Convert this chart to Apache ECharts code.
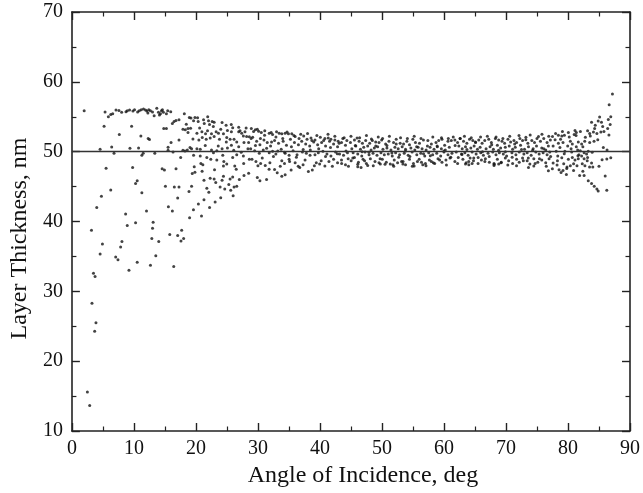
<!DOCTYPE html>
<html>
<head>
<meta charset="utf-8">
<script src="https://cdn.jsdelivr.net/npm/echarts@6/dist/echarts.min.js"></script>
<style>
html,body{margin:0;padding:0;background:#fff;}
#chart{width:643px;height:493px;}
</style>
</head>
<body>
<div id="chart"></div>
<script>
// ---- data: [angle of incidence (deg), layer thickness (nm)] ----
const xTickValues = [0,10,20,30,40,50,60,70,80,90];
const yTickValues = [10,20,30,40,50,60,70];
const targetThickness = 50;

const pointsBelow19 = [
[1.98,55.87],[5.35,55.67],[5.88,55.0],[6.26,55.34],[6.58,55.43],[7.11,55.96],[7.59,55.91],[8.02,55.63],[8.72,55.72],[8.93,55.87],
[9.3,55.96],[9.84,55.82],[10.1,56.0],[10.6,55.67],[10.86,55.87],[11.18,56.0],[11.55,56.1],[11.87,55.96],[12.09,55.82],[12.4,56.0],
[12.25,55.53],[12.67,55.87],[13.0,55.67],[13.26,55.14],[13.69,56.2],[13.96,55.63],[14.12,55.24],[14.28,55.43],[14.44,55.87],[14.6,56.0],
[14.76,55.63],[15.24,55.43],[15.45,55.87],[15.94,55.72],[16.2,54.04],[16.47,54.33],[16.79,54.47],[17.27,54.57],[18.13,55.43],[18.45,53.94],
[18.72,53.32],[18.93,54.9],
[5.19,53.65],[7.65,52.45],[9.63,53.65],[11.12,52.26],[12.3,51.88],[12.51,51.73],[14.81,53.32],[15.24,53.32],[15.51,50.63],[15.99,51.3],
[17.27,51.68],[17.91,53.22],[18.29,53.13],[18.72,52.74],
[4.55,50.34],[6.42,50.67],[6.79,49.76],[9.36,50.48],[10.75,50.53],[11.28,49.47],[11.5,49.76],[13.37,49.76],[15.51,50.19],[16.31,49.95],
[17.54,49.18],[17.91,50.19],[18.24,50.1],[18.61,50.24],[19.04,50.58],
[5.51,47.64],[9.79,47.74],[14.55,47.55],[14.92,47.36],[16.79,47.55],[10.27,45.43],[10.53,45.82],[6.26,44.52],[4.76,43.6],[15.08,45.05],
[16.52,44.95],[17.27,44.95],[18.88,44.28],[17.06,43.37],[11.28,44.13],
[4.01,42.02],[8.66,41.06],[12.03,41.49],[15.56,42.12],[16.2,41.49],[18.98,40.53],[3.16,38.75],[8.93,39.42],[10.27,39.81],[13.1,39.9],
[13.0,39.04],[15.78,38.13],[17.06,37.98],[17.7,38.75],[18.02,37.55],[17.59,37.21],[12.89,37.55],[14.01,37.12],[4.92,36.78],[8.07,37.12],
[7.86,36.35],[4.55,35.34],[7.06,34.9],[7.43,34.52],[10.53,34.18],[13.53,35.1],[12.67,33.75],[16.42,33.56],[9.2,33.03],[3.48,32.6],
[3.74,32.12],[3.24,28.3],[3.88,25.5],[3.67,24.3],[2.5,15.6],[2.87,13.65]
];

const points19to29 = [
[19.2,54.81],[19.84,54.9],[20.27,54.86],[19.62,54.42],[20.37,54.33],[21.23,54.57],[22.03,54.42],[22.62,54.33],[22.94,54.23],[21.34,54.04],
[22.19,53.89],[24.22,54.18],[24.87,53.8],[25.93,53.41],[19.14,53.37],[20.16,52.64],[20.96,52.84],[21.55,52.55],[21.87,52.98],[22.51,52.55],
[23.26,52.84],[23.64,52.64],[24.44,52.55],[25.08,53.03],[25.72,52.84],[26.9,52.84],[27.11,52.98],[27.38,52.64],[27.65,52.26],[27.91,52.84],
[28.18,52.16],[28.61,52.12],[19.52,51.83],[20.48,51.68],[21.02,52.02],[21.66,51.78],[22.3,51.97],[22.94,52.16],[23.8,51.78],[24.97,52.02],
[25.51,51.78],[26.15,51.78],[26.58,51.39],[27.75,51.3],[28.5,51.3],[19.3,50.43],[20.16,50.43],[20.7,50.34],[22.51,50.24],[23.37,50.14],
[24.22,50.43],[25.08,50.53],[25.72,50.91],[26.9,50.72],[28.39,50.43],[22.83,49.86],
[19.62,49.47],[20.7,49.38],[21.76,49.18],[23.37,48.8],[24.33,49.47],[25.93,49.18],[26.58,49.57],[27.65,49.38],[28.61,48.9],[19.73,47.84],
[20.8,48.32],[21.12,48.13],[24.44,47.93],[24.97,48.22],[26.26,47.93],[19.41,46.88],[19.84,47.07],[22.3,46.2],[22.94,46.1],[24.22,45.91],
[24.44,46.49],[25.51,46.1],[25.93,46.39],[27.75,46.59],[19.3,45.05],[21.76,44.76],[22.08,44.18],[23.9,44.95],[24.65,44.66],[25.61,44.47],
[26.15,44.95],[26.58,45.05],[19.6,41.7],[20.4,42.5],[21.3,43.1],[22.2,42.0],[23.1,42.8],[24.0,43.4],[20.9,40.8],
[20.6,53.4],[21.0,47.2],[21.5,50.9],[21.9,55.0],[22.4,48.9],[22.8,53.6],[23.2,45.6],[23.6,50.8],[24.0,53.2],[24.5,48.6],
[24.9,51.4],[25.3,45.3],[25.7,53.9],[26.1,50.2],[26.5,47.5],[26.9,53.5],[27.3,49.9],[27.7,48.3],[28.1,53.4],[28.5,46.9],
[28.9,51.9],[21.3,45.9],[23.0,47.4],[26.0,43.7],[27.0,46.0]
];

const points29to45 = [
[28.93,53.32],[29.58,53.13],[30.11,52.93],[30.54,52.74],[31.07,52.36],[31.82,52.64],[32.36,52.45],[33.0,52.84],[33.43,52.64],[33.85,52.55],
[34.39,52.64],[34.92,52.55],[35.46,52.55],[36.0,52.16],[36.63,51.88],[37.38,52.26],[37.92,51.78],[38.56,51.97],[39.2,51.68],[40.06,52.07],
[40.8,51.88],[41.34,51.97],[41.77,51.78],[42.41,51.68],[42.94,51.49],[43.69,51.88],[44.34,51.59],[29.9,53.22],[32.14,52.74],
[29.15,52.07],[29.79,51.49],[30.32,51.0],[30.97,51.68],[31.5,51.3],[32.04,50.82],[32.68,51.59],[33.32,51.2],[34.07,51.49],[34.6,50.91],
[35.24,51.78],[35.89,51.3],[36.53,51.0],[37.06,51.49],[37.7,51.1],[38.35,50.82],[38.99,51.39],[39.63,51.0],[40.27,51.3],[40.91,50.82],
[41.55,51.49],[42.2,51.1],[42.84,50.72],[43.48,51.3],[44.12,50.91],
[28.83,50.43],[29.47,50.14],[30.22,49.76],[30.86,50.24],[31.82,49.86],[32.36,50.05],[32.89,49.66],[33.75,50.34],[34.39,49.76],[35.03,49.47],
[35.67,50.14],[36.31,49.57],[37.17,49.95],[37.81,49.76],[38.45,50.24],[39.2,49.57],[39.74,49.86],[40.48,50.05],[41.13,49.66],[41.77,49.38],
[42.52,49.95],[43.16,49.66],[43.8,49.47],[44.44,49.86],
[29.04,48.9],[29.68,48.6],[30.43,48.32],[31.18,48.03],[31.93,48.41],[32.68,47.45],[33.11,46.97],[33.85,48.7],[34.28,48.32],[35.03,48.9],
[35.35,47.36],[36.0,48.41],[36.74,47.74],[37.28,48.13],[38.13,47.16],[38.77,47.36],[39.41,48.41],[39.95,48.22],[40.8,47.93],[41.45,48.6],
[42.2,48.9],[42.84,48.41],[43.48,48.8],[44.12,48.13],[44.55,48.99],
[29.9,46.3],[30.32,45.82],[31.39,46.0],[33.85,46.49],[34.39,46.68]
];

const points45to61 = [
[44.92,51.3],[45.56,51.68],[45.99,51.97],[46.31,51.49],[46.85,51.2],[47.38,51.59],[48.02,51.2],[48.45,51.59],[48.99,51.39],[49.52,51.3],
[49.95,51.68],[50.59,51.1],[51.13,51.49],[51.87,51.3],[52.3,51.78],[52.94,51.2],[53.48,51.1],[54.01,51.49],[54.44,51.0],[54.98,51.78],
[55.4,51.3],[56.05,51.2],[56.69,51.68],[57.33,50.82],[57.97,51.1],[58.72,51.3],[59.15,51.59],[59.68,51.78],[60.11,50.91],[60.65,51.49],
[45.14,50.43],[45.78,50.82],[46.53,50.34],[47.06,50.63],[47.7,50.82],[48.24,50.24],[48.77,50.53],[49.31,50.72],[50.16,50.34],[50.8,50.53],
[51.45,50.24],[52.09,50.63],[52.62,50.43],[53.26,50.72],[53.8,50.34],[54.66,50.53],[55.3,50.24],[55.83,50.63],[56.47,50.43],[57.12,50.24],
[57.76,50.63],[58.4,50.34],[58.93,50.72],[59.58,50.43],[60.22,50.24],[60.86,50.63],
[45.35,49.86],[46.1,49.66],[46.74,49.38],[47.28,49.95],[47.92,49.57],[48.56,49.76],[49.2,49.47],[49.84,49.86],[50.38,49.57],[51.02,49.66],
[51.66,49.38],[52.2,49.86],[52.84,49.57],[53.59,49.76],[54.23,49.47],[54.87,49.95],[55.62,49.57],[56.26,49.76],[56.9,49.38],[57.54,49.86],
[58.18,49.57],[58.83,49.76],[59.47,49.38],[60.0,49.95],[60.65,49.57],
[45.03,48.7],[45.56,49.18],[46.21,48.5],[46.95,48.9],[47.49,48.32],[48.13,48.99],[48.88,48.6],[49.52,48.41],[50.06,48.9],[50.7,48.5],
[51.34,48.22],[51.98,48.8],[52.52,48.41],[53.16,48.6],[53.8,48.13],[54.44,48.9],[55.08,48.32],[55.72,48.6],[56.37,48.5],[57.01,48.32],
[57.65,48.8],[58.29,48.41],[59.04,48.99],[59.68,48.5],[60.32,48.8],[60.97,49.09],
[46.1,47.84],[46.63,47.74],[47.7,48.03],[49.74,48.22],[51.77,48.13],[53.37,48.22],[55.19,47.93],[56.58,48.13],[57.97,48.6]
];

const points61to77 = [
[61.18,51.59],[61.76,51.68],[62.19,51.3],[62.62,51.88],[63.15,51.49],[63.69,51.2],[64.12,51.78],[64.65,51.59],[65.08,51.39],[65.61,51.68],
[66.15,51.2],[66.58,51.59],[67.22,51.78],[67.65,51.3],[68.29,51.88],[68.82,51.68],[69.36,51.49],[69.78,51.2],[70.32,51.78],[70.75,51.39],
[71.28,51.59],[71.71,51.3],[72.24,51.88],[72.67,51.59],[73.21,52.07],[73.53,51.2],[74.17,51.59],[74.6,51.3],[75.24,52.16],[75.56,51.49],
[76.09,51.88],[76.63,51.3],[77.16,51.68],
[62.4,50.82],[62.94,50.43],[63.47,50.72],[64.33,50.53],[64.86,50.82],[65.4,50.34],[65.83,50.63],[66.79,50.43],[67.43,50.72],[67.97,50.34],
[68.61,50.91],[69.14,50.53],[69.89,50.63],[70.53,50.82],[71.07,50.34],[71.5,50.63],[72.35,50.91],[72.99,50.34],[73.63,50.72],[74.38,50.43],
[74.92,50.82],[75.77,50.53],[76.41,50.24],[76.84,50.82],
[61.29,49.76],[61.98,49.95],[62.83,49.66],[63.37,49.86],[63.9,49.47],[64.54,49.95],[65.19,49.66],[65.93,49.86],[66.36,49.47],[67.11,49.76],
[67.86,49.95],[68.39,49.57],[68.93,49.86],[69.57,49.66],[70.1,49.38],[70.96,49.86],[71.6,49.57],[72.14,49.95],[72.89,49.66],[73.42,49.86],
[74.06,49.47],[74.81,49.95],[75.35,49.66],[75.99,49.86],[76.63,49.57],[77.06,49.95],
[61.76,48.6],[62.3,49.18],[63.05,48.9],[63.58,48.41],[64.22,49.09],[64.76,48.7],[65.51,49.18],[66.04,48.8],[66.68,48.99],[67.32,48.5],
[68.07,48.32],[68.61,48.9],[69.25,48.5],[69.89,49.09],[70.43,48.7],[71.07,48.32],[71.71,48.9],[72.14,48.5],[72.67,49.09],[73.42,48.7],
[73.85,48.22],[74.49,48.99],[75.13,48.5],[75.77,48.8],[76.41,48.41],[76.95,48.99],
[63.47,48.22],[64.01,48.13],[64.54,48.32],[68.07,48.03],[68.82,48.22],[73.63,47.74],[74.49,47.93],[76.84,47.26],[77.48,47.55]
];

const points77to88 = [
[87.17,58.27],[86.64,56.73],[85.1,54.95],[85.4,54.2],[84.87,54.4],[83.8,54.2],[86.5,54.6],[86.8,53.9],[86.4,53.3],[85.8,52.9],
[85.3,52.8],[84.66,52.6],[84.1,52.8],[83.16,53.0],[84.3,53.3],[83.6,52.26],[82.8,52.07],[83.5,51.3],[84.2,51.5],[84.8,51.7],
[85.7,50.6],[86.3,50.24],
[81.13,53.03],[81.34,52.74],[81.0,52.45],[80.06,52.74],[79.42,52.36],[79.0,52.26],[78.8,51.78],[78.45,52.36],[77.92,51.7],[77.5,52.16],
[80.38,51.49],[80.7,51.1],[81.66,51.39],[82.2,51.1],[82.4,50.72],[81.34,50.72],[79.95,50.82],[79.2,51.3],[78.45,51.2],
[78.1,50.05],[79.5,50.05],[80.6,49.95],[81.56,50.24],[81.98,50.14],[82.6,49.86],[83.0,49.66],[81.77,49.57],[83.27,50.05],
[78.35,49.38],[79.0,49.14],[80.06,48.9],[80.7,49.18],[81.13,48.8],[81.66,49.0],[82.2,49.38],[82.6,49.0],[83.16,49.18],[83.8,48.37],
[85.5,48.85],[86.26,48.94],[86.9,49.14],
[77.6,48.37],[78.24,48.08],[79.31,48.27],[79.84,47.79],[80.38,47.98],[80.9,48.27],[81.45,47.98],[82.3,48.27],[82.73,47.98],[83.48,47.79],
[84.0,47.79],[78.56,47.4],[79.2,47.3],[79.74,46.73],[78.88,47.0],
[81.88,46.59],[82.6,46.59],[83.27,45.82],[83.8,45.43],[84.23,45.05],[84.66,44.66],[84.87,44.37],[86.26,44.47]
];

const pointsBandExtra = [
[29.3,52.9],[29.6,50.9],[30.0,48.0],[30.4,51.9],[30.7,49.1],[31.1,53.0],[31.4,50.5],[31.8,47.5],[32.2,51.4],[32.5,49.3],
[32.9,52.1],[33.2,50.1],[33.6,47.9],[34.0,51.9],[34.3,49.9],[34.7,52.8],[35.1,48.6],[35.4,50.7],[35.8,52.3],[36.2,49.2],
[36.5,47.9],[36.9,52.5],[37.3,50.3],[37.6,48.8],[38.0,52.6],[38.4,49.5],[38.7,51.6],[39.1,48.0],[39.5,52.3],[39.8,50.4],
[40.2,48.7],[40.6,51.6],[40.9,49.3],[41.3,52.5],[41.7,50.6],[42.0,47.9],[42.4,52.2],[42.8,49.7],[43.1,51.2],[43.5,48.3],
[43.9,52.0],[44.2,50.1],[44.6,47.9],[45.0,52.2],[45.3,49.1],[45.7,50.9],[46.1,48.2],[46.4,52.0],[46.8,50.0],[47.2,48.7],
[47.5,52.3],[47.9,49.9],[48.3,51.8],[48.6,48.0],[49.0,50.8],[49.4,52.1],[49.7,49.0],[50.1,51.9],[50.5,48.2],[50.8,50.9],
[51.2,52.2],[51.6,49.8],[51.9,47.9],[52.3,51.1],[52.7,49.2],[53.0,52.0],[53.4,48.6],[53.8,50.1],[54.1,51.9],[54.5,49.3],
[54.9,47.9],[55.2,52.2],[55.6,50.7],[56.0,48.9],[56.3,51.9],[56.7,49.7],[57.1,48.0],[57.4,51.6],[57.8,49.4],[58.2,52.1],
[58.5,48.3],[58.9,50.8],[59.3,48.8],[59.6,52.0],[60.0,50.1],[60.4,48.1],[60.7,51.9],[61.1,49.2],[61.5,52.1],[61.8,50.9],
[62.2,48.3],[62.6,51.9],[62.9,49.6],[63.3,52.2],[63.7,50.3],[64.0,48.6],[64.4,52.0],[64.8,49.1],[65.1,51.3],[65.5,48.3],
[65.9,52.1],[66.2,50.0],[66.6,48.6],[67.0,52.2],[67.3,49.3],[67.7,51.0],[68.1,48.2],[68.4,52.1],[68.8,50.2],[69.2,48.4],
[69.5,51.9],[69.9,50.0],[70.3,48.1],[70.6,52.2],[71.0,49.2],[71.4,51.1],[71.7,48.0],[72.1,52.3],[72.5,50.3],[72.8,48.7],
[73.2,51.7],[73.6,49.1],[73.9,52.4],[74.3,50.2],[74.7,48.3],[75.0,51.9],[75.4,49.0],[75.8,52.5],[76.1,50.4],[76.5,47.9],
[76.9,52.2],[77.2,49.3],[77.6,50.8],[78.0,52.6],[78.3,48.7],[78.7,50.6],[79.1,52.9],[79.4,49.7],[79.8,47.6],[80.2,52.1],
[80.5,50.4],[80.9,47.3],[81.3,52.3],[81.6,49.4],[82.0,52.9],[82.4,47.2],[82.7,51.5],[83.1,48.7],[83.5,52.6],[83.9,49.9],
[84.4,53.8],[85.0,47.9],[85.6,53.6],[86.0,46.5],[86.6,52.4],[86.9,55.0]
];

const allPoints = [].concat(pointsBelow19, points19to29, points29to45, points45to61, points61to77, points77to88, pointsBandExtra);

// ---- chart ----
const FONT = '"Liberation Serif", "Times New Roman", serif';
const AXIS_COLOR = '#222';
const xMin = xTickValues[0], xMax = xTickValues[xTickValues.length-1];
const yMin = yTickValues[0], yMax = yTickValues[yTickValues.length-1];

function baseAxis(extra){
  return Object.assign({
    type:'value',
    splitLine:{show:false},
    axisLine:{show:true,onZero:false,lineStyle:{color:AXIS_COLOR,width:1.6}},
    axisTick:{show:true,inside:true,length:8,lineStyle:{color:AXIS_COLOR,width:1.4}},
    minorTick:{show:true,splitNumber:2,length:4.5,lineStyle:{color:AXIS_COLOR,width:1.2}},
    minorSplitLine:{show:false}
  }, extra);
}

const chart = echarts.init(document.getElementById('chart'), null, {renderer:'canvas'});
chart.setOption({
  animation:false,
  backgroundColor:'#fff',
  grid:{left:71,right:11,top:12,bottom:58,containLabel:false},
  xAxis:[
    baseAxis({
      position:'bottom', min:xMin, max:xMax, interval:10,
      axisLabel:{show:true,fontFamily:FONT,fontSize:20,color:'#111',margin:8},
      name:'Angle of Incidence, deg', nameLocation:'middle', nameGap:33,
      nameTextStyle:{fontFamily:FONT,fontSize:24,color:'#111',padding:[0,0,0,24]}
    }),
    baseAxis({position:'top', min:xMin, max:xMax, interval:10, axisLabel:{show:false}})
  ],
  yAxis:[
    baseAxis({
      position:'left', min:yMin, max:yMax, interval:10,
      axisLabel:{show:true,fontFamily:FONT,fontSize:20,color:'#111',margin:9},
      name:'Layer Thickness, nm', nameLocation:'middle', nameGap:37, nameRotate:90,
      nameTextStyle:{fontFamily:FONT,fontSize:24,color:'#111',padding:[0,34,0,0]}
    }),
    baseAxis({position:'right', min:yMin, max:yMax, interval:10, axisLabel:{show:false}})
  ],
  series:[{
    type:'scatter',
    xAxisIndex:0, yAxisIndex:0,
    data:allPoints,
    symbol:'circle',
    symbolSize:3,
    itemStyle:{color:'#141414'},
    silent:true,
    markLine:{
      silent:true,
      symbol:['none','none'],
      label:{show:false},
      lineStyle:{color:'#333',width:1.4,type:'solid'},
      data:[{yAxis:targetThickness}]
    }
  }]
});
</script>
</body>
</html>
